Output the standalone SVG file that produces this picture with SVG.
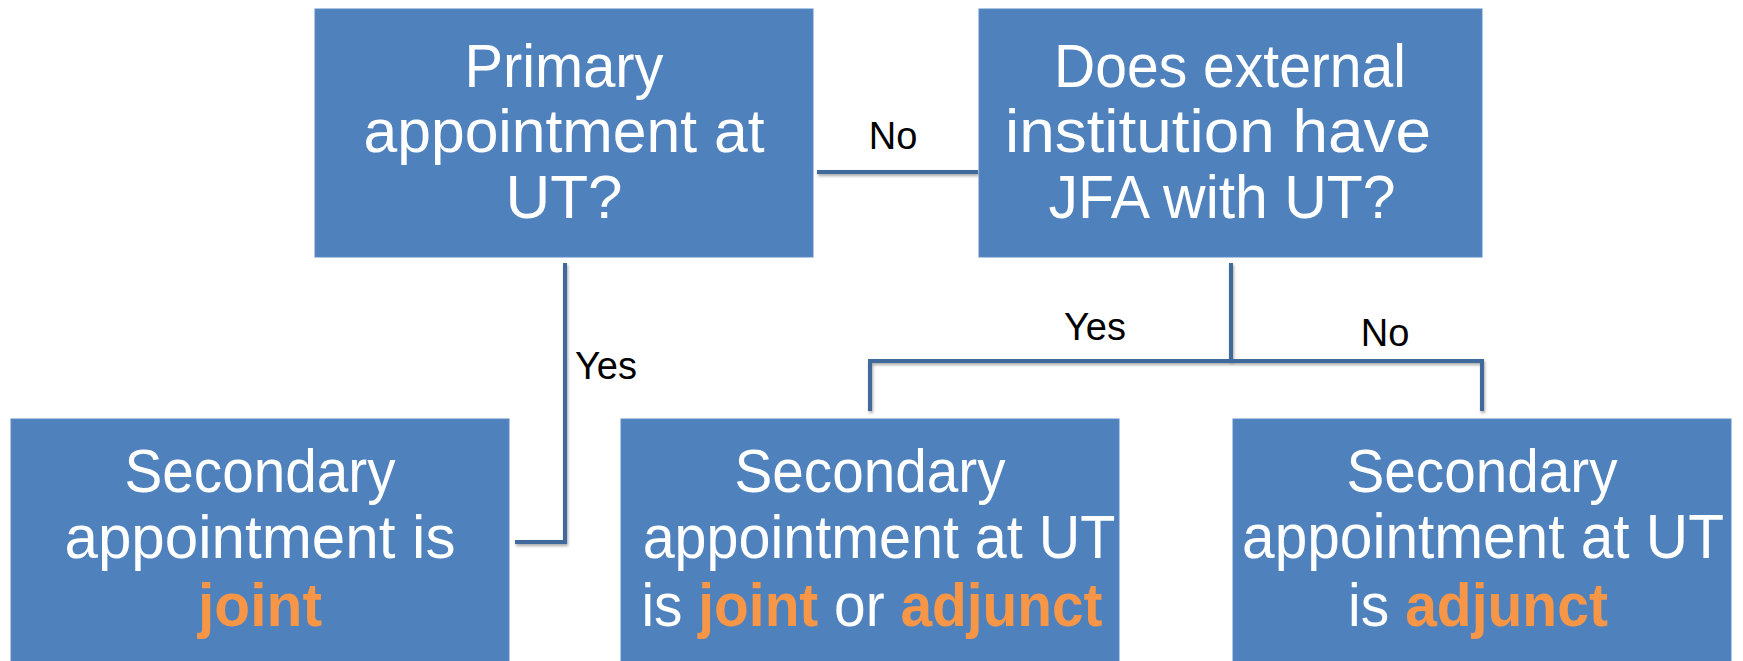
<svg xmlns="http://www.w3.org/2000/svg" width="1743" height="661" viewBox="0 0 1743 661">
<style>
.box{fill:#4f81bd;stroke:#5b8cc6;stroke-width:1}
.t{font-family:"Liberation Sans",Arial,sans-serif;font-size:62px;fill:#ffffff;text-anchor:middle}
.o{fill:#f79646;font-weight:bold}
.lab{font-family:"Liberation Sans",Arial,sans-serif;font-size:38px;fill:#000000;text-anchor:middle}
.c{fill:none;stroke:#41699c;stroke-width:4;filter:url(#sh)}
</style>
<defs>
<filter id="sh" filterUnits="userSpaceOnUse" x="0" y="0" width="1743" height="661">
<feGaussianBlur in="SourceAlpha" stdDeviation="1.5"/>
<feOffset dx="1" dy="2" result="b"/>
<feComponentTransfer><feFuncA type="linear" slope="0.35"/></feComponentTransfer>
<feMerge><feMergeNode/><feMergeNode in="SourceGraphic"/></feMerge>
</filter>
</defs>
<rect width="1743" height="661" fill="#ffffff"/>
<g id="connectors">
<path class="c" d="M817 172 H978"/>
<path class="c" d="M565 263 V542 H515"/>
<path class="c" d="M1231 263 V361"/>
<path class="c" d="M870 411 V361 H1482 V411"/>
</g>
<g id="labels">
<text class="lab" x="893" y="149">No</text>
<text class="lab" x="606" y="379">Yes</text>
<text class="lab" x="1095" y="340">Yes</text>
<text class="lab" x="1385" y="346">No</text>
</g>
<g id="n1">
<rect class="box" x="315" y="9" width="498" height="248"/>
<text class="t" x="564" y="87" textLength="199" lengthAdjust="spacingAndGlyphs">Primary</text>
<text class="t" x="564" y="152" textLength="401" lengthAdjust="spacingAndGlyphs">appointment at</text>
<text class="t" x="564" y="218">UT?</text>
</g>
<g id="n2">
<rect class="box" x="979" y="9" width="503" height="248"/>
<text class="t" x="1230" y="87" textLength="352" lengthAdjust="spacingAndGlyphs">Does external</text>
<text class="t" x="1218" y="152" textLength="426" lengthAdjust="spacingAndGlyphs">institution have</text>
<text class="t" x="1222" y="218" textLength="347" lengthAdjust="spacingAndGlyphs">JFA with UT?</text>
</g>
<g id="n3">
<rect class="box" x="11" y="419" width="498" height="250"/>
<text class="t" x="260" y="492" textLength="271" lengthAdjust="spacingAndGlyphs">Secondary</text>
<text class="t" x="260" y="558" textLength="391" lengthAdjust="spacingAndGlyphs">appointment is</text>
<text class="t o" x="260" y="626" textLength="124" lengthAdjust="spacingAndGlyphs">joint</text>
</g>
<g id="n4">
<rect class="box" x="621" y="419" width="498" height="250"/>
<text class="t" x="870" y="492" textLength="271" lengthAdjust="spacingAndGlyphs">Secondary</text>
<text class="t" transform="translate(879 558) scale(0.927 1)">appointment at UT</text>
<text class="t" transform="translate(872 626) scale(0.917 1)">is <tspan class="o">joint</tspan> or <tspan class="o">adjunct</tspan></text>
</g>
<g id="n5">
<rect class="box" x="1233" y="419" width="498" height="250"/>
<text class="t" x="1482" y="492" textLength="271" lengthAdjust="spacingAndGlyphs">Secondary</text>
<text class="t" transform="translate(1483 558) scale(0.945 1)">appointment at UT</text>
<text class="t" transform="translate(1478 626) scale(0.92 1)">is <tspan class="o">adjunct</tspan></text>
</g>
</svg>
